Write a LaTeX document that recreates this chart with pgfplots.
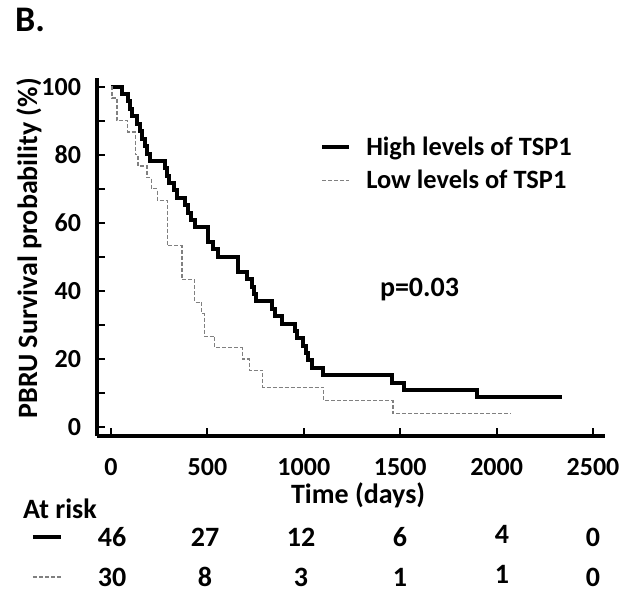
\documentclass[border=0pt]{standalone}
\usepackage{pgfplots}
\pgfplotsset{compat=1.18}
\usepackage{fontspec}
\setmainfont{Carlito}
\begin{document}
\begin{tikzpicture}[font=\fontsize{14}{17}\selectfont\bfseries]
\path[use as bounding box] (-48.5pt,-78pt) rectangle (266.5pt,218pt);
\begin{axis}[
  scale only axis, width=254pt, height=179pt,
  xmin=-72.6, xmax=2562, ymin=-2.65, ymax=102.6,
  axis lines=left, axis line style={-, line width=2pt},
  tick align=inside, major tick length=4pt, minor tick length=4pt,
  every tick/.style={black, line width=1pt},
  xtick={0,500,1000,1500,2000,2500},
  ytick={0,20,40,60,80,100}, minor ytick={10,30,50,70,90},
  scaled x ticks=false,
  /pgf/number format/1000 sep={},
  /pgf/number format/assume math mode=true,
  tick label style={font=\fontsize{13}{16}\selectfont\bfseries},
  xticklabel style={anchor=center, yshift=-15.5pt},
  yticklabel style={anchor=east, xshift=-4.5pt},
  xlabel={Time (days)}, ylabel={PBRU Survival probability (\%)},
  every axis x label/.style={at={(axis description cs:0.514,-0.165)}, anchor=center},
  every axis y label/.style={at={(axis description cs:-0.134,0.524)}, rotate=90, anchor=center},
  legend style={draw=none, fill=none, at={(axis description cs:0.427,0.86)}, anchor=north west,
    font=\fontsize{13.2}{16}\selectfont\bfseries, row sep=2pt, column sep=5.5pt},
  legend cell align=left,
  legend image code/.code={\draw[#1] (0pt,0pt) -- (13.5pt,0pt);},
  clip=false,
]
\addplot[black, line width=2pt] coordinates {
(0,100)(57,100)(57,97.8)(89,97.8)(89,95.7)(100,95.7)(100,93.5)(110,93.5)(110,91.3)(135,91.3)
(135,89.1)(150,89.1)(150,87)(160,87)(160,84.8)(175,84.8)(175,82.6)(185,82.6)(185,80.4)(200,80.4)
(200,78.3)(281,78.3)(281,76.1)(290,76.1)(290,73.9)(300,73.9)(300,71.7)(325,71.7)(325,69.6)(344,69.6)
(344,67.4)(385,67.4)(385,65.2)(400,65.2)(400,63)(417,63)(417,60.9)(437,60.9)(437,58.7)(504,58.7)
(504,54.3)(531,54.3)(531,52.2)(557,52.2)(557,50)(660,50)(660,45.7)(703,45.7)(703,43.5)(729,43.5)
(729,41.3)(740,41.3)(740,39.1)(750,39.1)(750,37)(833,37)(833,34.8)(850,34.8)(850,32.6)(885,32.6)
(885,30.4)(952,30.4)(952,28.3)(965,28.3)(965,26.1)(998,26.1)(998,23.9)(1010,23.9)(1010,21.7)(1021,21.7)
(1021,19.6)(1045,19.6)(1045,17.4)(1100,17.4)(1100,15.2)(1455,15.2)(1455,13.0)(1520,13.0)(1520,10.9)(1900,10.9)
(1900,8.7)(2340,8.7)
};
\addlegendentry{High levels of TSP1}
\addplot[gray, line width=0.6pt, dash pattern=on 2pt off 1pt] coordinates {
(0,100)(5,100)(5,96.7)(31,96.7)(31,90)(87,90)(87,86.7)(125,86.7)(125,80)(140,80)
(140,76.7)(187,76.7)(187,73.3)(208,73.3)(208,70)(240,70)(240,66.7)(292,66.7)(292,53.3)(368,53.3)
(368,43.3)(434,43.3)(434,36.7)(469,36.7)(469,33.3)(484,33.3)(484,26.7)(538,26.7)(538,23.3)(681,23.3)
(681,20)(717,20)(717,16.7)(786,16.7)(786,11.7)(1103,11.7)(1103,7.8)(1462,7.8)(1462,3.9)(2076,3.9)
};
\addlegendentry{Low levels of TSP1}
\node at (axis cs:1600,40.3) {p=0.03};
\end{axis}
\node[font=\fontsize{18}{21}\selectfont\bfseries] at (-33.5pt,208pt) {B.};
\node at (-18.5pt,-36.5pt) {At risk};
\draw[black, line width=2pt] (-32pt,-50.5pt) -- (-18pt,-50.5pt);
\draw[gray, line width=0.6pt, dash pattern=on 2pt off 1pt] (-32pt,-70.5pt) -- (-18pt,-70.5pt);
\node at (7.5pt,-50.5pt) {46};
\node at (54pt,-50.5pt) {27};
\node at (102pt,-50.5pt) {12};
\node at (151.5pt,-50.5pt) {6};
\node at (202.5pt,-49pt) {4};
\node at (248pt,-50.5pt) {0};
\node at (7.5pt,-70.5pt) {30};
\node at (54pt,-70.5pt) {8};
\node at (102pt,-70.5pt) {3};
\node at (151.5pt,-70.5pt) {1};
\node at (202.5pt,-69pt) {1};
\node at (248pt,-70.5pt) {0};
\end{tikzpicture}
\end{document}
